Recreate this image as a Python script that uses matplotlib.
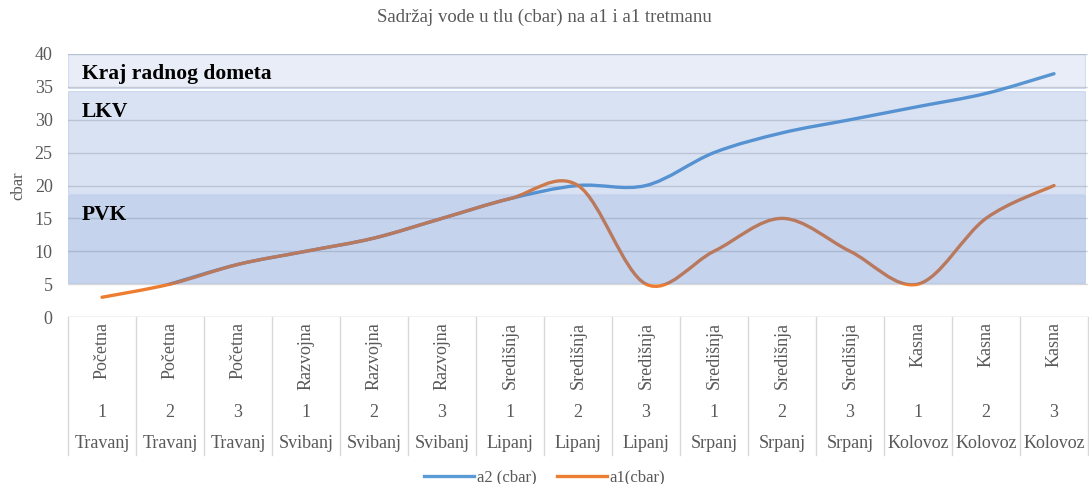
import numpy as np
import matplotlib
matplotlib.use("Agg")
from matplotlib import pyplot as plt
from matplotlib.path import Path
from matplotlib.patches import PathPatch
from matplotlib.lines import Line2D
from matplotlib import transforms

plt.rcParams['font.family'] = ['Liberation Serif', 'DejaVu Serif']

# data
phase = ["Početna"] * 3 + ["Razvojna"] * 3 + ["Središnja"] * 6 + ["Kasna"] * 3
number = ["1", "2", "3"] * 5
month = (["Travanj"] * 3 + ["Svibanj"] * 3 + ["Lipanj"] * 3
         + ["Srpanj"] * 3 + ["Kolovoz"] * 3)
a2 = [np.nan, 5, 8, 10, 12, 15, 18, 20, 20, 25, 28, 30, 32, 34, 37]
a1 = [3, 5, 8, 10, 12, 15, 18, 20, 5, 10, 15, 10, 5, 15, 20]

band_names = ["PVK", "LKV", "Kraj radnog dometa"]
band_low = [5.2, 18.7, 34.9]
band_high = [18.5, 34.3, 40]
band_alpha = [0.31, 0.2, 0.12]
band_label_y = [15.5, 31.2, 37.0]


def smooth_path(xs, ys):
    # Excel-like smoothing: cubic bezier, catmull-rom tangents
    pts = [(x, y) for x, y in zip(xs, ys) if not np.isnan(y)]
    pts = np.array(pts, dtype=float)
    n = len(pts)
    verts = [pts[0]]
    codes = [Path.MOVETO]
    for i in range(n - 1):
        p0 = pts[i - 1] if i > 0 else pts[i]
        p1 = pts[i]
        p2 = pts[i + 1]
        p3 = pts[i + 2] if i + 2 < n else pts[i + 1]
        c1 = p1 + (p2 - p0) / 6.0
        c2 = p2 - (p3 - p1) / 6.0
        verts += [c1, c2, p2]
        codes += [Path.CURVE4] * 3
    return Path(verts, codes)


fig = plt.figure(figsize=(10.89, 4.84), dpi=100)
ax = fig.add_axes([68 / 1089, 1 - 317 / 484, 1020 / 1089, 263 / 484])

x = np.arange(len(a1))
ax.set_xlim(-0.5, len(a1) - 0.5)
ax.set_ylim(0, 40)

# bands are transparent and sit on top of the lines
band_rgb = (68 / 255, 114 / 255, 196 / 255)
for lo, hi, al, name, ly in zip(band_low, band_high, band_alpha, band_names, band_label_y):
    ax.axhspan(lo, hi, xmin=0.0, xmax=0.997, facecolor=band_rgb + (al,),
               edgecolor=band_rgb + (0.18,), linewidth=0.8, zorder=6)
    ax.text(-0.3, ly, name, fontsize=15.5, fontweight="bold", color="black",
            va="center", ha="left", zorder=7)

ax.set_yticks(np.arange(0, 41, 5))
ax.grid(axis="y", color="#D9D9D9", linewidth=1.0, zorder=0.5)
ax.set_axisbelow(True)
ax.axhline(0, color="#D9D9D9", linewidth=1.0, zorder=0.6)
ax.tick_params(axis="y", length=0, pad=11, labelsize=13, labelcolor="#595959")
ax.set_xticks([])
for s in ax.spines.values():
    s.set_visible(False)
ax.set_ylabel("cbar", fontsize=12, color="#595959", labelpad=6)

ax.add_patch(PathPatch(smooth_path(x, a2), fill=False, edgecolor="#5B9BD5",
                       linewidth=2.4, capstyle="round", zorder=4))
ax.add_patch(PathPatch(smooth_path(x, a1), fill=False, edgecolor="#ED7D31",
                       linewidth=2.4, capstyle="round", zorder=5))

# multi-level category axis
trans = transforms.blended_transform_factory(ax.transData, ax.transAxes)
for i in range(len(a1) + 1):
    ax.plot([i - 0.5, i - 0.5], [0, -0.525], transform=trans, color="#D9D9D9",
            linewidth=1.0, clip_on=False)
for i in range(len(a1)):
    ax.text(i, -0.02, phase[i], rotation=90, ha="center", va="top",
            fontsize=13, color="#595959", transform=trans)
    ax.text(i, -0.365, number[i], ha="center", va="center",
            fontsize=13, color="#595959", transform=trans)
    ax.text(i, -0.48, month[i], ha="center", va="center",
            fontsize=13, color="#595959", transform=trans)

fig.text(0.5, 0.964, "Sadržaj vode u tlu (cbar) na a1 i a1 tretmanu",
         ha="center", va="center", fontsize=13.5, color="#595959")

handles = [Line2D([], [], color="#5B9BD5", linewidth=2.4),
           Line2D([], [], color="#ED7D31", linewidth=2.4)]
fig.legend(handles, ["a2 (cbar)", "a1(cbar)"], loc="center",
           bbox_to_anchor=(0.5, 0.013), ncol=2, frameon=False, fontsize=12,
           labelcolor="#595959", handlelength=3.0, handletextpad=0.2,
           columnspacing=1.2)

fig.savefig("out.png", dpi=100)
